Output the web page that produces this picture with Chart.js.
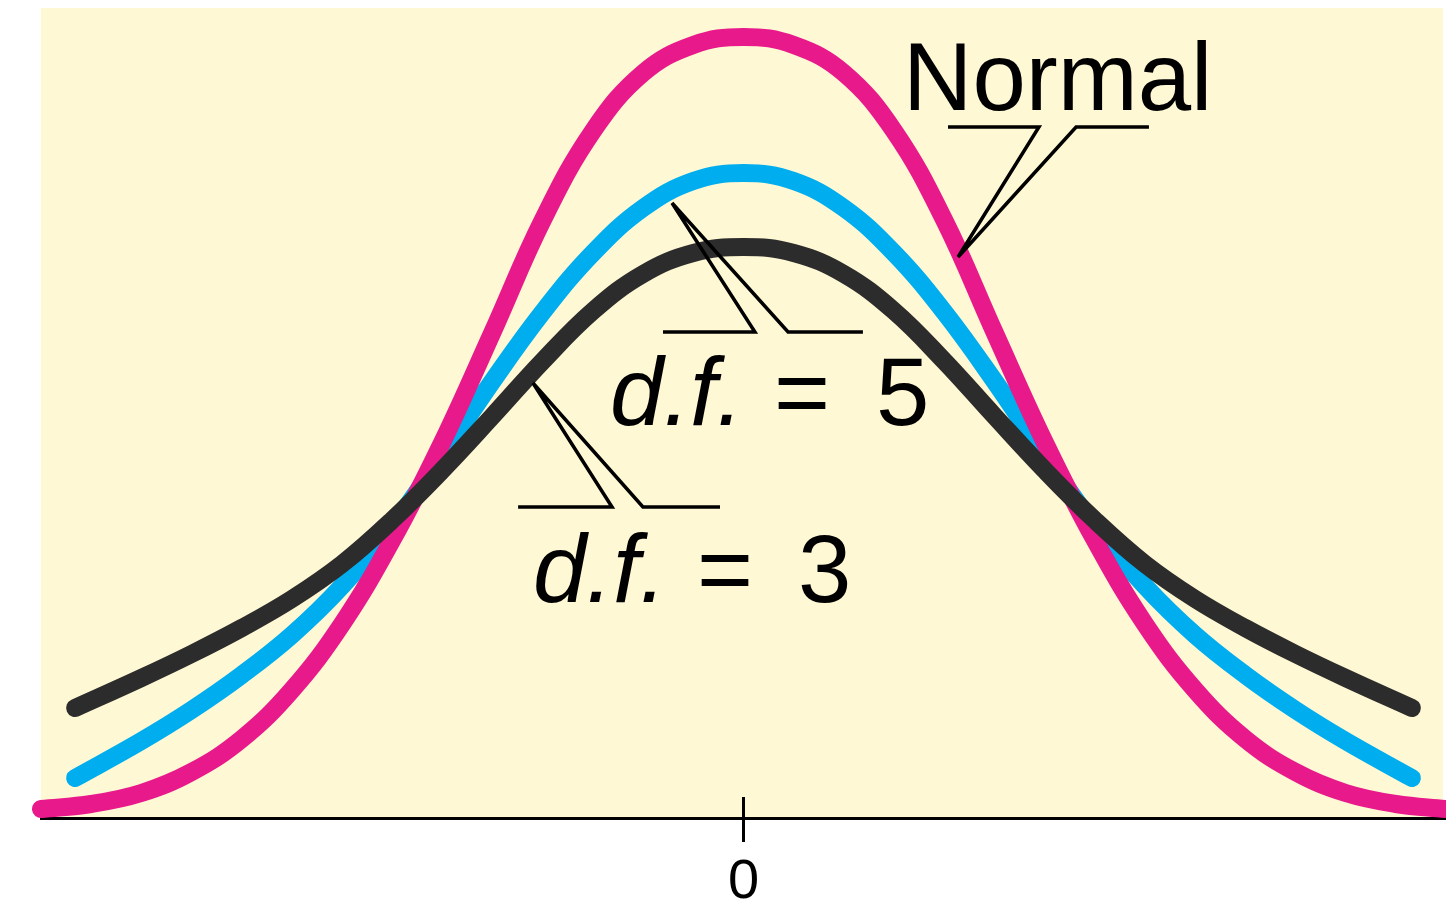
<!DOCTYPE html>
<html><head><meta charset="utf-8">
<script src="https://cdn.jsdelivr.net/npm/chart.js@4.4.1/dist/chart.umd.min.js"></script>
<style>html,body{margin:0;padding:0;background:#fff;overflow:hidden}canvas{display:block}</style>
</head><body>
<canvas id="c" width="1446" height="902"></canvas>
<script>
// ---- data ----
const seriesNames = ['Normal', 'd.f. = 5', 'd.f. = 3'];
const normalX = [-3.5,-3.25,-3.0,-2.75,-2.5,-2.25,-2.0,-1.75,-1.5,-1.25,-1.0,-0.75,-0.5,-0.25,0,
                 0.25,0.5,0.75,1.0,1.25,1.5,1.75,2.0,2.25,2.5,2.75,3.0,3.25,3.5];
const normalY = [0.0045,0.0070,0.0125,0.0230,0.0395,0.0640,0.0970,0.1390,0.1880,0.2430,0.2990,0.3435,0.3725,0.3865,0.3905,
                 0.3865,0.3725,0.3435,0.2990,0.2430,0.1880,0.1390,0.0970,0.0640,0.0395,0.0230,0.0125,0.0070,0.0045];
const tX = [-3.33,-3.0,-2.75,-2.5,-2.25,-2.0,-1.75,-1.5,-1.25,-1.0,-0.75,-0.5,-0.25,0,
            0.25,0.5,0.75,1.0,1.25,1.5,1.75,2.0,2.25,2.5,2.75,3.0,3.33];
const t5Y = [0.0200,0.0385,0.0540,0.0715,0.0915,0.1160,0.1460,0.1815,0.2185,0.2530,0.2825,0.3050,0.3185,0.3225,
             0.3185,0.3050,0.2825,0.2530,0.2185,0.1815,0.1460,0.1160,0.0915,0.0715,0.0540,0.0385,0.0200];
const t3Y = [0.0550,0.0700,0.0820,0.0950,0.1095,0.1270,0.1490,0.1740,0.2010,0.2285,0.2535,0.2720,0.2825,0.2855,
             0.2825,0.2720,0.2535,0.2285,0.2010,0.1740,0.1490,0.1270,0.1095,0.0950,0.0820,0.0700,0.0550];
const xTicks = [0];
const tickLabels = ['0'];

// ---- annotations (data coordinates) ----
const leaders = [
  [[1.019,0.3455],[1.472,0.3455],[1.069,0.2805],[1.657,0.3455],[2.020,0.3455]],
  [[-0.401,0.243],[0.057,0.243],[-0.356,0.3075],[0.222,0.243],[0.595,0.243]],
  [[-1.123,0.1555],[-0.655,0.1555],[-1.049,0.2175],[-0.501,0.1555],[-0.117,0.1555]]
];
const texts = [
  {t:'Normal', x:0.795, y:0.354, italic:false},
  {t:'d.f.', x:-0.665, y:0.1965, italic:true},
  {t:'=', x:0.152, y:0.1965, italic:false},
  {t:'5', x:0.660, y:0.1965, italic:false},
  {t:'d.f.', x:-1.049, y:0.108, italic:true},
  {t:'=', x:-0.232, y:0.108, italic:false},
  {t:'3', x:0.272, y:0.108, italic:false}
];

const pts = (xs, ys) => xs.map((x, i) => ({x, y: ys[i]}));
Chart.defaults.font.family = "'Liberation Sans', Arial, sans-serif";

const bgPlugin = {
  id: 'bg',
  beforeDraw(chart) {
    const {ctx, chartArea: ca, width, height} = chart;
    ctx.save();
    ctx.fillStyle = '#ffffff';
    ctx.fillRect(0, 0, width, height);
    ctx.fillStyle = '#fef8d4';
    ctx.fillRect(ca.left, ca.top, ca.right - ca.left - 3, ca.bottom - ca.top);
    ctx.restore();
  }
};

const annotPlugin = {
  id: 'annot',
  afterDraw(chart) {
    const {ctx, chartArea: ca} = chart;
    const xs = chart.scales.x, ys = chart.scales.y;
    ctx.save();
    ctx.strokeStyle = '#000';
    ctx.lineWidth = 3;
    xTicks.forEach(v => {
      const px = xs.getPixelForValue(v);
      ctx.beginPath(); ctx.moveTo(px, ca.bottom - 21); ctx.lineTo(px, ca.bottom); ctx.stroke();
    });
    ctx.lineJoin = 'miter';
    ctx.lineWidth = 3.5;
    leaders.forEach(path => {
      ctx.beginPath();
      path.forEach(([x, y], i) => {
        const px = xs.getPixelForValue(x), py = ys.getPixelForValue(y);
        if (i === 0) ctx.moveTo(px, py); else ctx.lineTo(px, py);
      });
      ctx.stroke();
    });
    ctx.fillStyle = '#000';
    ctx.textBaseline = 'alphabetic';
    ctx.textAlign = 'left';
    texts.forEach(o => {
      ctx.font = (o.italic ? 'italic ' : '') + "96px 'Liberation Sans', Arial, sans-serif";
      ctx.fillText(o.t, xs.getPixelForValue(o.x), ys.getPixelForValue(o.y));
    });
    ctx.restore();
  }
};

const lineStyle = {borderWidth: 18, borderCapStyle: 'round', borderJoinStyle: 'round',
                   tension: 0.4, cubicInterpolationMode: 'default', pointRadius: 0, fill: false, clip: false};

new Chart(document.getElementById('c').getContext('2d'), {
  type: 'line',
  data: {
    datasets: [
      Object.assign({label: seriesNames[2], data: pts(tX, t3Y), borderColor: '#2d2c2c', order: 0}, lineStyle),
      Object.assign({label: seriesNames[0], data: pts(normalX, normalY), borderColor: '#e8198b', order: 1}, lineStyle),
      Object.assign({label: seriesNames[1], data: pts(tX, t5Y), borderColor: '#00adee', order: 2}, lineStyle)
    ]
  },
  options: {
    responsive: false,
    animation: false,
    devicePixelRatio: 1,
    layout: {padding: {left: 41, right: 0, top: 8, bottom: 0}},
    plugins: {legend: {display: false}, tooltip: {enabled: false}},
    scales: {
      x: {
        type: 'linear', min: -3.5, max: 3.5,
        afterBuildTicks: s => { s.ticks = xTicks.map(v => ({value: v})); },
        afterFit: s => { s.height = 84; },
        grid: {display: true, drawOnChartArea: false, drawTicks: true, tickLength: 24, tickWidth: 3, tickColor: '#000'},
        border: {display: true, color: '#000', width: 3},
        ticks: {
          padding: 18, color: '#000', autoSkip: false, maxRotation: 0,
          font: {size: 56, lineHeight: 0.8},
          callback: v => { const i = xTicks.indexOf(v); return i >= 0 ? tickLabels[i] : ''; }
        }
      },
      y: {display: false, min: 0, max: 0.405}
    }
  },
  plugins: [bgPlugin, annotPlugin]
});
</script>
</body></html>
